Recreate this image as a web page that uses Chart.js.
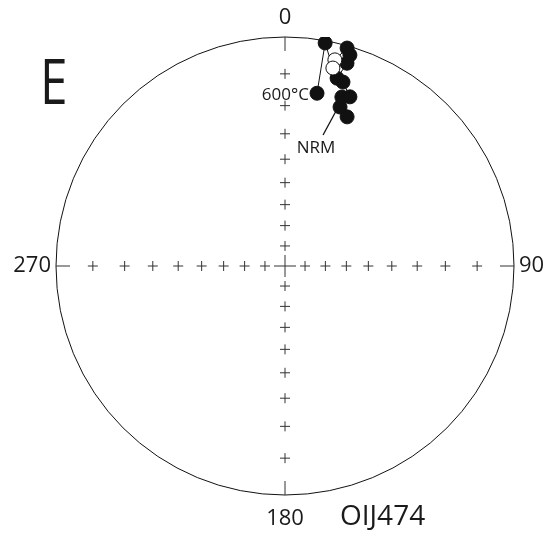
<!DOCTYPE html>
<html>
<head>
<meta charset="utf-8">
<script src="https://cdn.jsdelivr.net/npm/chart.js@4"></script>
<style>html,body{margin:0;padding:0;background:#fff}</style>
</head>
<body>
<canvas id="stereoChart" width="550" height="535"></canvas>
<script>
// demagnetisation path, NRM first -> 600°C last
var steps = ["NRM", "", "", "", "", "", "", "", "", "", "", "", "600°C"];
var dec = [19.1, 22.6, 18.6, 21.0, 17.5, 15.5, 17.0, 17.1, 15.9, 13.6, 13.6, 10.2, 10.5];
var inc = [17.4, 19.6, 14.2, 13.3, 9.8, 9.2, 4.4, 2.1, 0.6, -4.4, -6.7, 0.6, 15.0];

// grid crosses every 10 degrees of inclination along the four axes
var gridAzimuths = [0, 90, 180, 270];
var gridInc = [10, 20, 30, 40, 50, 60, 70, 80];
var azimuthLabels = ["0", "90", "180", "270"];
var panelLabel = "E";
var sampleName = "OIJ474";

var rad = Math.PI / 180;

// stereographic (Wulff) projection, unit circle
function project(d, i) {
    var r = Math.tan((90 - Math.abs(i)) / 2 * rad);
    return {x: r * Math.sin(d * rad), y: r * Math.cos(d * rad)};
}

var pathData = dec.map(function(d, k) { return project(d, inc[k]); });
var fillColors = inc.map(function(i) { return i >= 0 ? '#111' : '#fff'; });

var gridData = [];
gridAzimuths.forEach(function(a) {
    gridInc.forEach(function(i) { gridData.push(project(a, i)); });
});

var netPlugin = {
    id: 'net',
    beforeDatasetsDraw: function(chart) {
        var ctx = chart.ctx;
        var xs = chart.scales.x, ys = chart.scales.y;
        var cx = xs.getPixelForValue(0), cy = ys.getPixelForValue(0);
        var R = xs.getPixelForValue(1) - cx;
        ctx.save();
        ctx.strokeStyle = '#111';
        ctx.lineWidth = 1;
        ctx.beginPath();
        ctx.arc(cx, cy, R, 0, 2 * Math.PI);
        ctx.stroke();
        // ticks at the rim
        ctx.strokeStyle = '#333';
        gridAzimuths.forEach(function(a) {
            var sx = Math.sin(a * rad), sy = -Math.cos(a * rad);
            ctx.beginPath();
            ctx.moveTo(cx + sx * R, cy + sy * R);
            ctx.lineTo(cx + sx * (R - 14), cy + sy * (R - 14));
            ctx.stroke();
        });
        // centre cross
        ctx.beginPath();
        ctx.moveTo(cx - 11, cy); ctx.lineTo(cx + 11, cy);
        ctx.moveTo(cx, cy - 11); ctx.lineTo(cx, cy + 11);
        ctx.stroke();
        ctx.restore();
    },
    afterDraw: function(chart) {
        var ctx = chart.ctx;
        var xs = chart.scales.x, ys = chart.scales.y;
        var cx = xs.getPixelForValue(0), cy = ys.getPixelForValue(0);
        var R = xs.getPixelForValue(1) - cx;
        ctx.save();
        ctx.fillStyle = '#1a1a1a';
        ctx.font = '22px "Open Sans"';
        ctx.textAlign = 'center';
        ctx.textBaseline = 'middle';
        ctx.fillText(azimuthLabels[0], cx, cy - R - 19);
        ctx.fillText(azimuthLabels[2], cx, cy + R + 24);
        ctx.textAlign = 'left';
        ctx.fillText(azimuthLabels[1], cx + R + 5, cy);
        ctx.textAlign = 'right';
        ctx.fillText(azimuthLabels[3], cx - R - 5, cy);

        ctx.textAlign = 'left';
        ctx.font = '28px "Open Sans"';
        ctx.fillText(sampleName, 340, cy + R + 22);

        // panel letter, a bit narrow like the original face
        ctx.save();
        ctx.translate(40, 86);
        ctx.scale(0.8, 1);
        ctx.font = '62px "Open Sans"';
        ctx.fillText(panelLabel, 0, 0);
        ctx.restore();

        // step labels
        ctx.font = '17px "Open Sans"';
        var first = chart.getDatasetMeta(1).data[0];
        var last = chart.getDatasetMeta(1).data[steps.length - 1];
        ctx.textAlign = 'right';
        ctx.fillText(steps[steps.length - 1], last.x - 8, last.y + 2);
        ctx.textAlign = 'center';
        ctx.fillText(steps[0], first.x - 24, first.y + 41);
        ctx.strokeStyle = '#111';
        ctx.lineWidth = 1.3;
        ctx.beginPath();
        ctx.moveTo(first.x - 4, first.y + 4);
        ctx.lineTo(first.x - 17, first.y + 28);
        ctx.stroke();
        ctx.restore();
    }
};

var ctx = document.getElementById("stereoChart").getContext("2d");
new Chart(ctx, {
    type: 'scatter',
    data: {
        datasets: [
            {
                label: 'grid',
                data: gridData,
                pointStyle: 'cross',
                pointRadius: 5,
                borderColor: '#333',
                borderWidth: 1,
                order: 2
            },
            {
                label: 'path',
                data: pathData,
                showLine: true,
                borderColor: '#111',
                borderWidth: 1,
                pointRadius: 7,
                pointBackgroundColor: fillColors,
                pointBorderColor: '#111',
                pointBorderWidth: 1,
                order: 1
            }
        ]
    },
    options: {
        responsive: false,
        animation: false,
        devicePixelRatio: 1,
        layout: {padding: {left: 56, right: 36, top: 37, bottom: 40}},
        plugins: {legend: {display: false}, tooltip: {enabled: false}},
        scales: {
            x: {type: 'linear', min: -1, max: 1, display: false},
            y: {type: 'linear', min: -1, max: 1, display: false}
        }
    },
    plugins: [netPlugin]
});
</script>
</body>
</html>
